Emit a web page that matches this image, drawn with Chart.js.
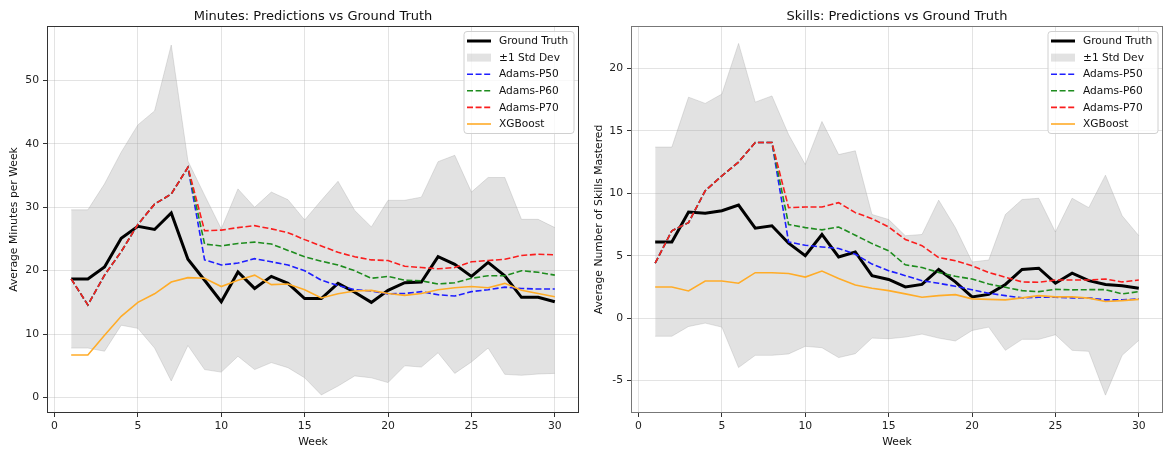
<!DOCTYPE html>
<html>
<head>
<meta charset="utf-8">
<script src="https://cdn.jsdelivr.net/npm/chart.js@4.4.1/dist/chart.umd.min.js"></script>
<style>
  body { margin: 0; background: #fff; }
  canvas { position: absolute; top: 0; }
</style>
</head>
<body>
<canvas id="minutesChart" width="582" height="452" style="left:0"></canvas>
<canvas id="skillsChart" width="582" height="452" style="left:582px"></canvas>
<script>
// weeks 1..30
const weeks = [1,2,3,4,5,6,7,8,9,10,11,12,13,14,15,16,17,18,19,20,21,22,23,24,25,26,27,28,29,30];

// Minutes panel
const minTruth = [18.7,18.7,20.6,25.1,27.0,26.5,29.1,21.8,18.5,15.1,19.8,17.2,19.1,18.0,15.6,15.6,18.0,16.6,15.0,16.9,18.1,18.2,22.2,21.0,19.1,21.3,19.2,15.8,15.8,15.1];
const minUpper = [29.6,29.6,33.7,38.7,43.0,45.2,55.6,37.3,31.9,26.6,32.9,30.0,32.4,31.2,28.0,31.1,34.1,29.5,26.9,31.1,31.1,31.6,37.2,38.2,32.4,34.7,34.7,28.1,28.1,26.8];
const minLower = [7.8,7.8,7.3,11.4,10.9,7.8,2.6,8.2,4.4,4.0,6.5,4.4,5.5,4.7,3.1,0.4,1.8,3.4,3.1,2.35,5.0,4.8,7.05,3.8,5.6,7.8,3.65,3.5,3.7,3.8];
const minP50 = [18.7,14.6,19.3,23.0,27.3,30.5,32.1,36.3,21.7,20.9,21.2,21.9,21.4,20.9,20.0,18.5,17.65,17.0,16.8,16.35,16.4,16.7,16.2,16.0,16.7,17.0,17.4,17.2,17.1,17.1];
const minP60 = [18.7,14.6,19.3,23.0,27.3,30.5,32.1,36.3,24.2,23.9,24.3,24.5,24.2,23.2,22.2,21.5,20.9,20.0,18.8,19.1,18.5,18.4,17.9,18.1,18.8,19.2,19.2,20.0,19.75,19.3];
const minP70 = [18.7,14.6,19.3,23.0,27.3,30.5,32.1,36.3,26.3,26.4,26.8,27.1,26.6,26.0,24.9,23.9,22.9,22.2,21.7,21.6,20.7,20.5,20.3,20.5,21.4,21.6,21.8,22.4,22.6,22.5];
const minXgb = [6.7,6.7,9.8,12.8,15.0,16.35,18.2,18.9,18.8,17.5,18.5,19.3,17.8,17.9,17.0,15.7,16.35,16.8,16.9,16.4,16.1,16.4,17.0,17.3,17.5,17.3,18.0,16.9,16.4,15.9];
const minTicks = [0,10,20,30,40,50];

// Skills panel
const sklTruth = [6.1,6.1,8.5,8.4,8.6,9.05,7.2,7.4,6.0,5.0,6.7,4.9,5.3,3.4,3.1,2.5,2.7,3.9,2.9,1.7,1.9,2.7,3.9,4.0,2.8,3.6,3.0,2.7,2.6,2.4];
const sklUpper = [13.7,13.7,17.7,17.2,17.95,22.0,17.3,17.8,14.7,12.3,15.75,13.1,13.4,8.3,7.9,6.6,6.7,9.45,7.25,4.5,4.65,8.3,9.5,9.6,6.9,9.6,8.85,11.45,8.2,6.6];
const sklLower = [-1.45,-1.45,-0.67,-0.4,-0.72,-3.96,-2.98,-2.98,-2.87,-2.26,-2.37,-3.16,-2.85,-1.6,-1.65,-1.52,-1.28,-1.6,-1.83,-0.99,-0.72,-2.58,-1.7,-1.7,-1.33,-2.58,-2.66,-6.17,-2.98,-1.78];
const sklP50 = [4.4,7.0,7.65,10.2,11.4,12.5,14.07,14.07,6.1,5.84,5.7,5.58,5.12,4.33,3.8,3.4,3.0,2.79,2.55,2.28,1.99,1.8,1.62,1.67,1.67,1.62,1.62,1.46,1.46,1.54];
const sklP60 = [4.4,7.0,7.65,10.2,11.4,12.5,14.07,14.07,7.5,7.25,7.07,7.3,6.64,5.97,5.39,4.27,4.06,3.66,3.35,3.13,2.73,2.47,2.2,2.12,2.31,2.26,2.28,2.28,1.94,2.12];
const sklP70 = [4.4,7.0,7.65,10.2,11.4,12.5,14.07,14.07,8.85,8.9,8.9,9.25,8.45,7.97,7.3,6.3,5.8,4.85,4.6,4.2,3.66,3.27,2.9,2.87,3.05,3.05,3.05,3.13,2.9,3.05];
const sklXgb = [2.49,2.49,2.18,2.97,2.97,2.79,3.64,3.64,3.58,3.29,3.77,3.18,2.65,2.39,2.2,1.94,1.67,1.8,1.88,1.54,1.5,1.46,1.62,1.8,1.7,1.7,1.6,1.33,1.4,1.5];
const sklTicks = [-5,0,5,10,15,20];

const weekTicks = [0,5,10,15,20,25,30];
const legendLabels = ['Ground Truth', '\u00b11 Std Dev', 'Adams-P50', 'Adams-P60', 'Adams-P70', 'XGBoost'];

const FONT = "'DejaVu Sans', 'Liberation Sans', sans-serif";
Chart.defaults.font.family = FONT;
Chart.defaults.font.size = 10.8;
Chart.defaults.color = '#222';

const BAND_FILL = 'rgba(160,160,160,0.3)';
// opaque so the overlapping dashes up to week 8 only show the top (red) line
const colors = {
  truth: '#000000',
  p50: 'rgb(30,30,255)',
  p60: 'rgb(30,140,30)',
  p70: 'rgb(250,30,30)',
  xgb: 'rgb(255,172,40)'
};
const DASH = [6, 2.6];

function pts(ys) {
  return weeks.map((w, i) => ({ x: w, y: ys[i] }));
}

// title, axis titles, frame and legend drawn on top
function decorPlugin(o) {
  return {
    id: 'decor',
    afterDraw(chart) {
      const ctx = chart.ctx;
      const a = chart.chartArea;
      ctx.save();
      // frame
      ctx.strokeStyle = o.spine;
      ctx.lineWidth = 1;
      ctx.strokeRect(a.left + 0.5, a.top + 0.5, a.width - 1, a.height - 1);

      // title
      ctx.fillStyle = '#111';
      ctx.font = '13px ' + FONT;
      ctx.textAlign = 'center';
      ctx.textBaseline = 'alphabetic';
      ctx.fillText(o.title, (a.left + a.right) / 2, 19.5);

      // axis titles
      ctx.font = '10.8px ' + FONT;
      ctx.textBaseline = 'middle';
      ctx.fillText('Week', (a.left + a.right) / 2, 442);
      ctx.save();
      ctx.translate(o.yTitleX, (a.top + a.bottom) / 2);
      ctx.rotate(-Math.PI / 2);
      ctx.fillText(o.yTitle, 0, 0);
      ctx.restore();

      // legend
      const lw = 110, lh = 102;
      const lx = a.right - 115, ly = a.top + 5.5;
      ctx.beginPath();
      ctx.roundRect(lx, ly, lw, lh, 3);
      ctx.fillStyle = 'rgba(255,255,255,0.8)';
      ctx.fill();
      ctx.strokeStyle = '#d0d0d0';
      ctx.lineWidth = 1;
      ctx.stroke();

      const styles = [
        { c: colors.truth, w: 3, dash: [] },
        { band: true },
        { c: colors.p50, w: 1.6, dash: DASH },
        { c: colors.p60, w: 1.6, dash: DASH },
        { c: colors.p70, w: 1.6, dash: DASH },
        { c: colors.xgb, w: 1.6, dash: [] }
      ];
      ctx.textAlign = 'left';
      ctx.font = '10.6px ' + FONT;
      styles.forEach((s, i) => {
        const y = ly + 9.5 + i * 16.6;
        const x0 = lx + 3, x1 = lx + 27;
        if (s.band) {
          ctx.fillStyle = BAND_FILL;
          ctx.fillRect(x0, y - 4, x1 - x0, 8);
        } else {
          ctx.beginPath();
          ctx.setLineDash(s.dash);
          ctx.strokeStyle = s.c;
          ctx.lineWidth = s.w;
          ctx.moveTo(x0, y);
          ctx.lineTo(x1, y);
          ctx.stroke();
          ctx.setLineDash([]);
        }
        ctx.fillStyle = '#111';
        ctx.fillText(legendLabels[i], lx + 35, y + 0.5);
      });
      ctx.restore();
    }
  };
}

function makeChart(id, d) {
  const line = (label, ys, color, width, dash, order) => ({
    label: label,
    data: pts(ys),
    borderColor: color,
    borderWidth: width,
    borderDash: dash,
    pointRadius: 0,
    fill: false,
    tension: 0,
    order: order
  });
  return new Chart(document.getElementById(id), {
    type: 'line',
    data: {
      datasets: [
        { label: 'upper', data: pts(d.upper), borderColor: BAND_FILL, borderWidth: 1, pointRadius: 0, fill: false, order: 10 },
        { label: legendLabels[1], data: pts(d.lower), borderColor: BAND_FILL, borderWidth: 1, pointRadius: 0, fill: '-1', backgroundColor: BAND_FILL, order: 9 },
        line(legendLabels[0], d.truth, colors.truth, 3, [], 6),
        line(legendLabels[2], d.p50, colors.p50, 1.6, DASH, 5),
        line(legendLabels[3], d.p60, colors.p60, 1.6, DASH, 4),
        line(legendLabels[4], d.p70, colors.p70, 1.6, DASH, 3),
        line(legendLabels[5], d.xgb, colors.xgb, 1.6, [], 2)
      ]
    },
    options: {
      responsive: false,
      animation: false,
      events: [],
      layout: { padding: { top: 26, right: d.padRight, left: 0, bottom: 0 } },
      plugins: { legend: { display: false }, title: { display: false }, tooltip: { enabled: false } },
      scales: {
        x: {
          type: 'linear',
          min: -0.45,
          max: 31.45,
          afterBuildTicks: s => { s.ticks = weekTicks.map(v => ({ value: v })); },
          afterFit: s => { s.height = 39; },
          grid: { color: 'rgba(176,176,176,0.35)', tickColor: '#333', tickLength: 4 },
          border: { display: false },
          ticks: { padding: 3, maxRotation: 0, color: '#222' }
        },
        y: {
          type: 'linear',
          min: d.yMin,
          max: d.yMax,
          afterBuildTicks: s => { s.ticks = d.ticks.map(v => ({ value: v })); },
          afterFit: s => { s.width = d.axisWidth; },
          grid: { color: 'rgba(176,176,176,0.35)', tickColor: '#333', tickLength: 4 },
          border: { display: false },
          ticks: { padding: 4, color: '#222' }
        }
      }
    },
    plugins: [decorPlugin(d)]
  });
}

makeChart('minutesChart', {
  truth: minTruth, upper: minUpper, lower: minLower,
  p50: minP50, p60: minP60, p70: minP70, xgb: minXgb,
  ticks: minTicks, yMin: -2.45, yMax: 58.6,
  axisWidth: 47, padRight: 3,
  title: 'Minutes: Predictions vs Ground Truth',
  yTitle: 'Average Minutes per Week', yTitleX: 14,
  spine: '#333'
});

makeChart('skillsChart', {
  truth: sklTruth, upper: sklUpper, lower: sklLower,
  p50: sklP50, p60: sklP60, p70: sklP70, xgb: sklXgb,
  ticks: sklTicks, yMin: -7.6, yMax: 23.4,
  axisWidth: 49, padRight: 1,
  title: 'Skills: Predictions vs Ground Truth',
  yTitle: 'Average Number of Skills Mastered', yTitleX: 17,
  spine: '#777'
});
</script>
</body>
</html>
